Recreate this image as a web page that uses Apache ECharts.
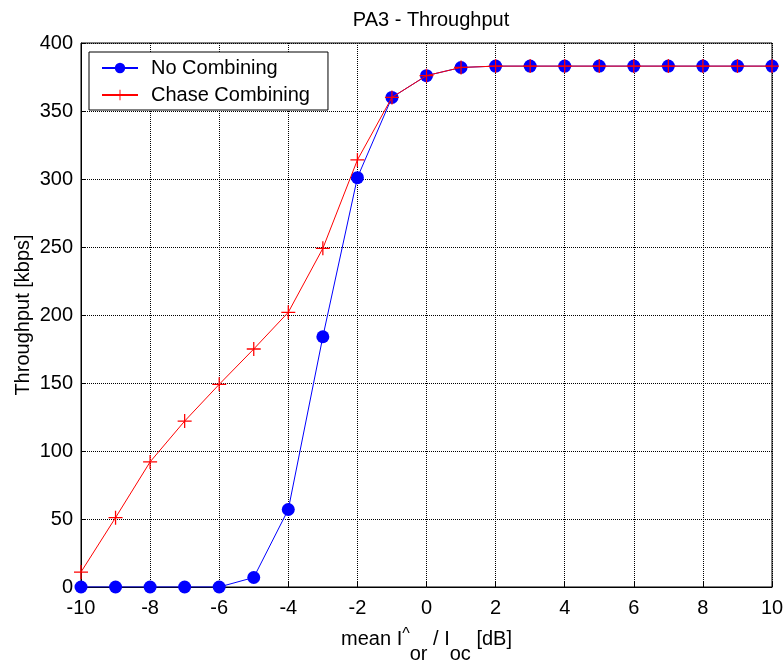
<!DOCTYPE html>
<html>
<head>
<meta charset="utf-8">
<script src="https://cdn.jsdelivr.net/npm/echarts@6/dist/echarts.min.js"></script>
<style>
  html, body { margin: 0; padding: 0; background: #fff; }
  #chart { width: 783px; height: 660px; }
</style>
</head>
<body>
<div id="chart"></div>
<script>
var snr = [-10, -9, -8, -7, -6, -5, -4, -3, -2, -1, 0, 1, 2, 3, 4, 5, 6, 7, 8, 9, 10];
var noComb = [0, 0, 0, 0, 0, 7, 57, 184, 301, 360, 376, 382, 383, 383, 383, 383, 383, 383, 383, 383, 383];
var chaseComb = [11, 51, 92, 122, 149, 175, 202, 249, 314, 360, 376, 382, 383, 383, 383, 383, 383, 383, 383, 383, 383];

function pairs(ys) {
    var out = [];
    for (var i in snr) {
        out.push([snr[i], ys[i]]);
    }
    return out;
}

// plus marker as a thin filled cross
var plusPath = 'path://M-1,-0.09L-0.09,-0.09L-0.09,-1L0.09,-1L0.09,-0.09L1,-0.09L1,0.09L0.09,0.09L0.09,1L-0.09,1L-0.09,0.09L-1,0.09Z';
var font = 'Liberation Sans, Arial, sans-serif';

var myChart = echarts.init(document.getElementById('chart'));
var option = {
    animation: false,
    textStyle: { fontFamily: font },
    title: {
        text: 'PA3 - Throughput',
        left: 426,
        textAlign: 'center',
        top: 5,
        textStyle: { fontSize: 20, fontWeight: 'normal', color: '#000', fontFamily: font }
    },
    legend: {
        orient: 'vertical',
        left: 89,
        top: 52,
        itemWidth: 36,
        itemHeight: 13,
        itemGap: 7,
        padding: [6, 18, 5, 12],
        borderColor: '#000',
        borderWidth: 1,
        backgroundColor: '#fff',
        textStyle: { fontSize: 20, color: '#000', fontFamily: font, padding: [0, 0, 0, 8] },
        data: ['No Combining', 'Chase Combining']
    },
    grid: {
        left: 81,
        right: 11,
        top: 43,
        bottom: 73,
        outerBoundsMode: 'none',
        show: true,
        borderColor: '#000',
        borderWidth: 1
    },
    xAxis: {
        type: 'value',
        min: -10,
        max: 10,
        interval: 2,
        name: 'mean I{sup|^}{sub|or} / I{sub|oc} [dB]',
        nameLocation: 'middle',
        nameGap: 27,
        nameTextStyle: {
            fontSize: 20,
            color: '#000',
            fontFamily: font,
            rich: {
                sub: { fontSize: 20, color: '#000', fontFamily: font, padding: [30, 0, 0, 0] },
                sup: { fontSize: 16, color: '#000', fontFamily: font, padding: [0, 0, 8, 0] }
            }
        },
        axisLine: { show: true, onZero: false, lineStyle: { color: '#000' } },
        axisTick: { inside: true, length: 5, lineStyle: { color: '#000' } },
        axisLabel: { fontSize: 20, color: '#000', margin: 11, fontFamily: font },
        splitLine: { show: true, lineStyle: { color: '#000', type: 'dotted', width: 1 } }
    },
    yAxis: {
        type: 'value',
        min: 0,
        max: 400,
        interval: 50,
        name: 'Throughput [kbps]',
        nameLocation: 'middle',
        nameGap: 48,
        nameMoveOverlap: false,
        nameTextStyle: { fontSize: 20, color: '#000', fontFamily: font },
        axisLine: { show: true, onZero: false, lineStyle: { color: '#000' } },
        axisTick: { inside: true, length: 5, lineStyle: { color: '#000' } },
        axisLabel: { fontSize: 20, color: '#000', margin: 8, fontFamily: font },
        splitLine: { show: true, lineStyle: { color: '#000', type: 'dotted', width: 1 } }
    },
    series: [{
        name: 'No Combining',
        type: 'line',
        data: pairs(noComb),
        symbol: 'circle',
        symbolSize: 13,
        color: '#0000ff',
        lineStyle: { color: '#0000ff', width: 1 },
        itemStyle: { color: '#0000ff' },
        z: 2
    }, {
        name: 'Chase Combining',
        type: 'line',
        data: pairs(chaseComb),
        symbol: plusPath,
        symbolSize: 14,
        color: '#ff0000',
        lineStyle: { color: '#ff0000', width: 1 },
        itemStyle: { color: '#ff0000' },
        z: 3
    }]
};
myChart.setOption(option);
</script>
</body>
</html>
